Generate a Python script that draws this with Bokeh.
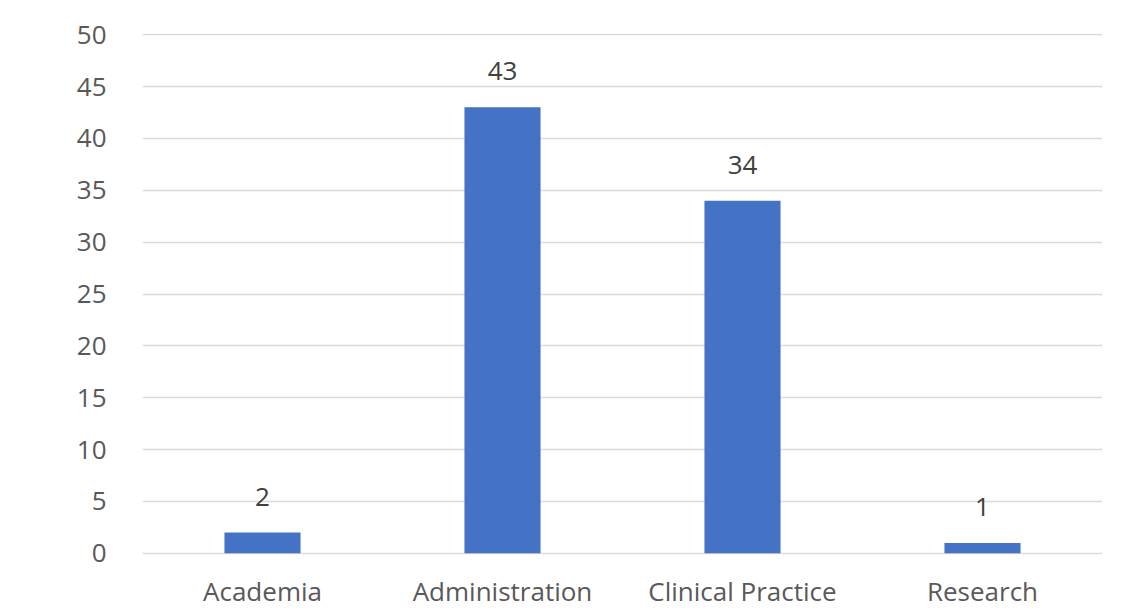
from bokeh.plotting import figure
from bokeh.models import ColumnDataSource, FactorRange, Range1d, FixedTicker
from bokeh.core.properties import value
from bokeh.embed import file_html
from bokeh.resources import INLINE

categories = ["Academia", "Administration", "Clinical Practice", "Research"]
counts = [2, 43, 34, 1]
y_ticks = [0, 5, 10, 15, 20, 25, 30, 35, 40, 45, 50]

FONT = "Open Sans"
TXT = "#595959"

src = ColumnDataSource(dict(cat=categories, val=counts, lab=[str(v) for v in counts]))

p = figure(width=1122, height=610, x_range=FactorRange(*categories, range_padding=0),
           y_range=Range1d(-0.12, 50.12), output_backend="svg", toolbar_location=None,
           frame_width=960, frame_height=521,
           min_border_left=142, min_border_right=20, min_border_top=33, min_border_bottom=56)
p.x_range.range_padding = 0
p.vbar(x="cat", top="val", bottom=0, width=0.317, source=src, color="#4472C4", line_color=None)
p.text(x="cat", y="val", text="lab", source=src, text_align="center", text_baseline="middle",
       y_offset=-36, text_font=value(FONT), text_font_size="26px", text_color="#404040")

p.outline_line_color = None
p.background_fill_color = "white"
p.border_fill_color = "white"
p.xgrid.grid_line_color = None
p.ygrid.grid_line_color = "#D9D9D9"
p.ygrid.grid_line_width = 1.5
p.yaxis.ticker = FixedTicker(ticks=y_ticks)
for ax in (p.xaxis, p.yaxis):
    ax.axis_line_color = None
    ax.major_tick_line_color = None
    ax.minor_tick_line_color = None
    ax.major_label_text_font = FONT
    ax.major_label_text_color = TXT
    ax.major_label_text_font_size = "26px"
p.yaxis.major_label_standoff = 30
p.xaxis.major_label_standoff = 12

open("out.html", "w").write(file_html(p, INLINE))
